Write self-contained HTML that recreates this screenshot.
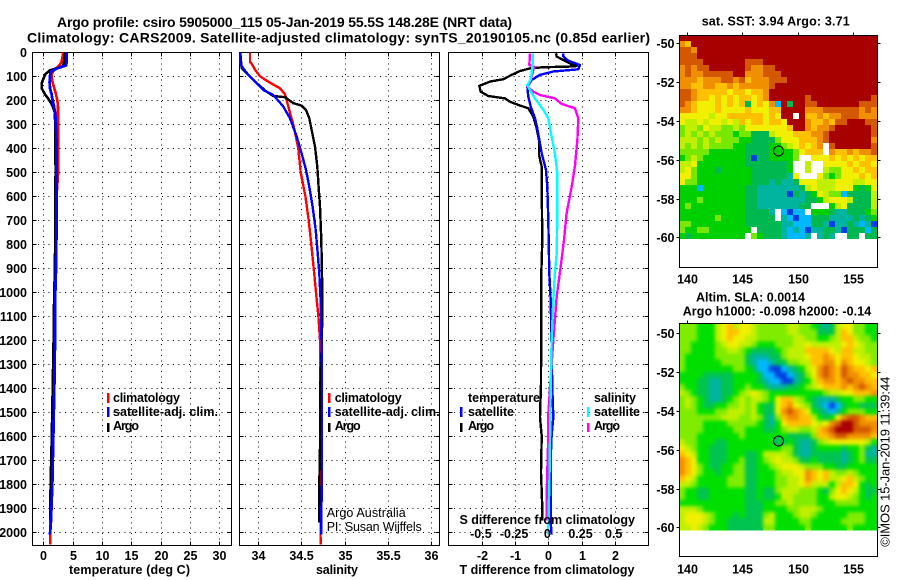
<!DOCTYPE html>
<html lang="en">
<head>
<meta charset="utf-8">
<title>Argo profile chart</title>
<style>
html,body{margin:0;padding:0;background:#fff;}
svg{display:block;font-family:"Liberation Sans",sans-serif;}
text{fill:#000;font-weight:bold;font-size:12.5px;}
.thin{font-weight:normal;}
.grid{stroke:#000;stroke-width:1;stroke-dasharray:1 4.4;fill:none;shape-rendering:crispEdges;}
.frame{fill:none;stroke:#000;stroke-width:1;shape-rendering:crispEdges;}
.tick{stroke:#000;stroke-width:1;shape-rendering:crispEdges;}
.series{fill:none;stroke-linejoin:round;shape-rendering:crispEdges;}
.cell{shape-rendering:crispEdges;}
.swatch{shape-rendering:crispEdges;}
.smooth{filter:blur(1.9px);}
</style>
</head>
<body>
<svg id="chart" xmlns="http://www.w3.org/2000/svg" width="900" height="580" viewBox="0 0 900 580">
  <defs>
    <clipPath id="sla-clip"><rect x="679.5" y="323.5" width="198" height="205.4"/></clipPath>
  </defs>
  <rect x="0" y="0" width="900" height="580" fill="#fff"/>
  <text x="57" y="27" style="font-size:14px" textLength="455">Argo profile: csiro 5905000_115 05-Jan-2019 55.5S 148.28E (NRT data)</text>
  <text x="27" y="42.5" style="font-size:14px" textLength="623">Climatology: CARS2009. Satellite-adjusted climatology: synTS_20190105.nc (0.85d earlier)</text>

  <g id="plots"></g>

  <text x="69" y="574" textLength="121">temperature (deg C)</text>
  <text x="316" y="574" textLength="42">salinity</text>
  <text x="459.5" y="574" textLength="175">T difference from climatology</text>

  <g>
    <rect class="swatch" x="107" y="393" width="2.5" height="10" fill="#ff0000"/>
    <text x="113" y="402" textLength="67">climatology</text>
    <rect class="swatch" x="107" y="407" width="2.5" height="10" fill="#0000ff"/>
    <text x="113" y="416" textLength="105">satellite-adj. clim.</text>
    <rect class="swatch" x="107" y="423" width="2.5" height="9" fill="#000"/>
    <text x="113" y="430" textLength="26">Argo</text>
  </g>
  <g>
    <rect class="swatch" x="328" y="393" width="2.5" height="10" fill="#ff0000"/>
    <text x="334.7" y="402" textLength="67">climatology</text>
    <rect class="swatch" x="328" y="407" width="2.5" height="10" fill="#0000ff"/>
    <text x="334.7" y="416" textLength="105">satellite-adj. clim.</text>
    <rect class="swatch" x="328" y="423" width="2.5" height="9" fill="#000"/>
    <text x="334.7" y="430" textLength="26">Argo</text>
    <text class="thin" x="326.7" y="517" textLength="79">Argo Australia</text>
    <text class="thin" x="326.7" y="531" textLength="95">PI: Susan Wijffels</text>
  </g>
  <g>
    <text x="468" y="402" textLength="72">temperature</text>
    <rect class="swatch" x="460" y="407" width="2.5" height="10" fill="#0000ff"/>
    <text x="468" y="416" textLength="46">satellite</text>
    <rect class="swatch" x="460" y="423" width="2.5" height="9" fill="#000"/>
    <text x="468" y="430" textLength="26">Argo</text>
    <text x="594" y="402" textLength="42">salinity</text>
    <rect class="swatch" x="587" y="407" width="2.5" height="10" fill="#00ffff"/>
    <text x="594" y="416" textLength="46">satellite</text>
    <rect class="swatch" x="587" y="423" width="2.5" height="9" fill="#ff00ff"/>
    <text x="594" y="430" textLength="26">Argo</text>
    <text x="459.5" y="524" textLength="175.5">S difference from climatology</text>
  </g>

  <g id="maps"></g>

  <text x="701.7" y="25.7" textLength="148">sat. SST: 3.94 Argo: 3.71</text>
  <text x="696" y="301.7" textLength="109">Altim. SLA: 0.0014</text>
  <text x="682.7" y="315.7" textLength="188.5">Argo h1000: -0.098 h2000: -0.14</text>
  <text class="thin" transform="translate(889.5,546.7) rotate(-90)" x="0" y="0" style="font-size:13px" textLength="170">©IMOS 15-Jan-2019 11:39:44</text>
</svg>

<script>
// ---------- tick labels ----------
const depthTicks = [0,100,200,300,400,500,600,700,800,900,1000,1100,1200,1300,1400,1500,1600,1700,1800,1900,2000];
const tempTicks = [0,5,10,15,20,25,30];
const salTicks = [34,34.5,35,35.5,36];
const tDiffTicks = [-2,-1,0,1,2];
const sDiffTicks = [-0.5,-0.25,0,0.25,0.5];
const lonTicks = [140,145,150,155];
const latTicks = [-50,-52,-54,-56,-58,-60];

// ---------- temperature profiles (deg C) ----------
const tempClimDepth = [0,40,55,65,75,85,100,125,150,175,200,225,300,400,490,600,900,1200,1600,1950,2050];
const tempClim = [3.4,3.12,2.73,2.27,1.82,1.54,1.42,1.59,1.88,2.16,2.39,2.5,2.5,2.55,2.55,2.27,2.1,1.8,1.5,1.2,1.2];
const tempArgoDepth = [0,20,40,50,60,65,75,90,100,125,150,175,190,200,225,250,300,500,600,900,1000,1200,1400,1600,1800,1950];
const tempArgo = [3.7,3.6,3.55,3.5,3.2,2.5,1.14,0.4,0.18,-0.22,-0.28,0.29,0.75,1.03,1.6,1.95,2.05,2.1,2.05,2.0,1.85,1.75,1.6,1.45,1.25,1.2];
const tempSatDepth = [0,40,55,65,75,85,100,125,150,175,200,225,250,300,400,500,700,900,1000,1200,1400,1600,1800,1950,2010];
const tempSat = [3.97,3.97,3.86,2.56,1.71,1.25,1.14,1.08,1.14,1.42,1.59,1.82,1.99,2.16,2.27,2.27,2.27,2.16,2.05,1.99,1.88,1.71,1.54,1.31,1.14];

// ---------- salinity profiles ----------
const salClimDepth = [0,40,50,75,100,125,150,175,200,268,300,400,500,600,700,800,900,1000,1100,1200,1650,2050];
const salClim = [33.911,33.911,33.934,33.973,34.026,34.134,34.257,34.315,34.334,34.384,34.41,34.468,34.495,34.549,34.587,34.618,34.645,34.672,34.699,34.718,34.718,34.725];
const salArgoDepth = [0,67,87,122,164,182,187,212,222,240,275,324,393,476,560,643,782,921,1032,1200,1400,1600,1800,1960];
const salArgo = [33.8,33.815,33.873,33.969,34.103,34.18,34.315,34.41,34.506,34.556,34.595,34.622,34.66,34.687,34.702,34.718,34.733,34.741,34.745,34.74,34.72,34.72,34.71,34.71];
const salSatDepth = [0,46,67,94,122,157,178,226,275,351,421,490,560,643,740,837,921,1032,1300,1800,1950,2010];
const salSat = [33.796,33.796,33.834,33.892,33.969,34.065,34.18,34.295,34.372,34.449,34.506,34.556,34.595,34.633,34.668,34.691,34.71,34.725,34.741,34.741,34.73,34.73];

// ---------- differences from climatology ----------
const diffTArgoDepth = [4,18,32,53,57,60,62,67,78,94,112,122,140,164,182,192,206,222,233,268,317,365,428,476,560,782,921,1032,1380,1520,1600,1750,1900,1950];
const diffTArgo = [0.232,0.252,0.453,0.754,0.854,0.553,-0.15,-0.551,-0.852,-1.104,-1.354,-1.756,-2.077,-2.037,-1.806,-1.304,-1.154,-0.852,-0.601,-0.451,-0.35,-0.28,-0.28,-0.2,-0.2,-0.18,-0.21,-0.21,-0.22,-0.25,-0.2,-0.22,-0.18,-0.18];
const diffTSatDepth = [4,18,35,53,71,80,94,115,143,185,226,275,317,421,490,560,699,921,1032,1400,1520,1600,1700,1950,2010];
const diffTSat = [0.453,0.453,0.603,0.955,0.905,0.152,-0.25,-0.501,-0.632,-0.601,-0.531,-0.401,-0.33,-0.2,-0.069,-0.029,0.001,0.031,0.071,0.12,0.15,0.1,0.07,0.07,0.1];
const diffSArgoDepth = [4,53,60,87,122,143,164,178,192,215,233,275,365,476,560,671,782,893,1018,1200,1400,1510,1600,1700,1850,1950];
const diffSArgo = [-0.138,-0.143,-0.108,-0.118,-0.138,-0.158,-0.113,-0.0625,0.05,0.1,0.2,0.226,0.219,0.2,0.176,0.138,0.118,0.093,0.063,0.038,0.013,0,0,-0.005,-0.012,-0.012];
const diffSSatDepth = [4,46,87,115,136,157,192,240,275,351,421,504,671,837,921,1032,1200,1400,1800,1900,2010];
const diffSSat = [-0.118,-0.118,-0.125,-0.133,-0.158,-0.138,-0.1,-0.037,0,0.025,0.05,0.068,0.068,0.063,0.05,0.038,0.025,0.018,0.008,0.003,0];

// ---------- map values: one character per cell, colour level 0 (low) to b (high), "." = no data ----------
const sstColors = ['#0040e0','#00b8ff','#00b4a0','#00b850','#00d000','#78e800','#c0f000','#f0f000','#ffc000','#f09000','#d45800','#a80000'];
const slaColors = ['#0040e0','#00b8ff','#00b4a0','#00c450','#00e000','#80ec00','#c0f000','#f0f000','#ffc000','#f09000','#d45800','#a80000'];
const sstRows = [
"bbbbbbbbbbb bbbbbbbbbbb bbbbbbbbbbb",
"98bbbbbbbbb bbbbbbbbbbb bbbbbbbbbbb",
"aa9bbbbbbbb bbbbbbbbbbb bbbbbbbbbbb",
"aaabbbbbbbb bbbbbbbbbbb bbbbbbbbbbb",
"aaaabbbbbbb aaabbbbbbbb bbbbbbbbbbb",
"9a9aabbbbbb a99aabbbbbb bbbbbbbbbbb",
"9a99aaaaabb 999aaabbbbb bbbbbbbbbbb",
"9998999aa9a 8999aaabbbb bbbbbbbbbbb",
"99889988989 9999abbbbbb bbbbbbbbbbb",
"aa988888788 7889bbbbbbb bbbbbbbbbbb",
"aa988787878 8789bbbbbba bbbbbbbbbba",
"a9877787878 378791b3bba abbbbbbbaaa",
"99877787777 877788bbbb9 99aaaaaa9a9",
"77777677888 888787bb.b8 89899aaa999",
"76676776768 7887887bbb9 8898aabbbaa",
"56657665565 77777778bb9 899abbbbbba",
"56565655545 53336777888 99abbbbbbba",
"66656565554 43333577788 89abbbbbbb9",
"65656555544 33334456787 89.abbbbbba",
"55555444444 33334444578 88.9889899a",
"45654444444 303344445.. 77787878788",
"66744444444 33333334..6 ..777787887",
"67544434444 43333334..6 ..655778788",
"77544444444 433333327.. .7545777878",
"75544444444 43332322377 76667776677",
"44414444444 33222222236 76667774347",
"44444444444 33222220323 47655133336",
"44454444444 33222222223 34677763336",
"45444444444 33222222233 ...46733336",
"44444444444 33332.1011. 44432233345",
"44444454444 33333.21011 33322223234",
"55444444444 33333322111 33202232120",
"54455444444 4.333321210 22332033313",
"43444444444 .5433321112 .232..33.33"
];
const slaRows = [
"55544467867 76555556655 43236775544",
"55544467887 76555556655 53336875544",
"55544467877 66555555665 54456886554",
"55444456776 65444555667 66666787655",
"55444455665 43333456668 88876886655",
"54444455555 32223356667 88987887665",
"54444445555 32112335566 88997987765",
"54444444455 43110012346 79a98a98878",
"44443333344 44311001235 79a98a99887",
"44433223344 44321100234 689989a9988",
"54433223344 54432223345 67888989a98",
"65433223345 67654444444 44566778889",
"56543223456 56654788654 32223445544",
"56543344556 56433789765 32101344333",
"55544455666 5643379a987 43212455544",
"55555556665 56532589988 643479aa988",
"55554444555 55432478888 7679abba999",
"55554444455 44433456655 689abbbaaa9",
"55544444445 44444443333 5889aa99998",
"65544433444 44444334322 35677777764",
"76544333444 44444455322 34444344532",
"87644333444 33466665322 33333234522",
"98744333445 33456766533 43333234533",
"98754334455 33445677765 55443344444",
"98754434455 33444566779 87865565444",
"87644444555 33444556679 87866786544",
"66544444555 33444556678 66646887434",
"54433444444 33433566655 54357876433",
"54433444444 33433466555 54467765434",
"44444444444 33344556555 54445555444",
"66654444444 33344445566 65444444444",
"67776544434 33356444566 54444455544",
"67776544333 33366444455 44444555544",
"66765444333 33355444445 44444454444"
];
const argoLon = 148.28;
const argoLat = -55.55;
const argoSstLevel = 4;
const argoSlaLevel = 3;

// ---------- helpers ----------
const SVGNS = 'http://www.w3.org/2000/svg';
const plotsLayer = document.getElementById('plots');
const mapsLayer = document.getElementById('maps');
function make(tag, parent, name, cls) {
  const el = document.createElementNS(SVGNS, tag);
  
  
  if (cls) el.setAttribute('class', cls);
  parent.appendChild(el);
  return el;
}
function line(parent, name, cls, x1, y1, x2, y2) {
  const el = make('line', parent, name, cls);
  el.setAttribute('x1', x1); el.setAttribute('y1', y1);
  el.setAttribute('x2', x2); el.setAttribute('y2', y2);
  return el;
}
function label(parent, name, str, x, y, anchor) {
  const el = make('text', parent, name);
  el.setAttribute('x', x); el.setAttribute('y', y);
  el.setAttribute('text-anchor', anchor || 'middle');
  el.textContent = str;
  return el;
}

// ---------- axes ----------
const yTop = 52.5, yBottom = 545.5;
const depthY = d => Math.round(52.3 + 0.24 * d) + 0.5;
const tempX = t => 43.3 + 5.87 * t;
const salX = s => 257.7 + 86.8 * (s - 34);
const diffTX = t => 548.3 + 33.2 * t;
const diffSX = s => 548.3 + 132.8 * s;
const snap = v => Math.round(v) + 0.5;

function drawPanel(id, left, right, xTicks, xScale, tickLabel) {
  const g = make('g', plotsLayer, id + '-panel');
  depthTicks.forEach(d => {
    const y = depthY(d);
    line(g, id + '-depth-gridline', 'grid', left, y, right, y);
    line(g, id + '-depth-tick-left', 'tick', left, y, left + 4, y);
    line(g, id + '-depth-tick-right', 'tick', right - 4, y, right, y);
  });
  xTicks.forEach(v => {
    const x = snap(xScale(v));
    line(g, id + '-x-gridline', 'grid', x, yTop, x, yBottom);
    line(g, id + '-x-tick-top', 'tick', x, yTop, x, yTop + 4);
    line(g, id + '-x-tick-bottom', 'tick', x, yBottom - 4, x, yBottom);
    label(g, id + '-x-tick-label', tickLabel(v), x, 560);
  });
  const f = make('rect', g, id + '-frame', 'frame');
  f.setAttribute('x', left); f.setAttribute('y', yTop);
  f.setAttribute('width', right - left); f.setAttribute('height', yBottom - yTop);
  return g;
}
function drawSeries(g, name, depths, values, xScale, color, width) {
  const el = make('polyline', g, name, 'series');
  const pts = depths.map((d, i) => xScale(values[i]).toFixed(1) + ',' + (52.3 + 0.24 * d).toFixed(1));
  el.setAttribute('points', pts.join(' '));
  el.setAttribute('stroke', color);
  el.setAttribute('stroke-width', width);
  return el;
}

// panel 1: temperature
const p1 = drawPanel('temperature', 32.5, 231.5, tempTicks, tempX, v => String(v));
depthTicks.forEach(d => {
  label(p1, 'depth-tick-label', String(d), 27, depthY(d) + 4.5, 'end');
});
drawSeries(p1, 'temperature-climatology-line', tempClimDepth, tempClim, tempX, '#ff0000', 2.6);
drawSeries(p1, 'temperature-argo-line', tempArgoDepth, tempArgo, tempX, '#000000', 2.6);
drawSeries(p1, 'temperature-satellite-line', tempSatDepth, tempSat, tempX, '#0000ff', 2.8);

// panel 2: salinity
const p2 = drawPanel('salinity', 239.5, 439.5, salTicks, salX, v => String(v));
drawSeries(p2, 'salinity-climatology-line', salClimDepth, salClim, salX, '#ff0000', 2.4);
drawSeries(p2, 'salinity-argo-line', salArgoDepth, salArgo, salX, '#000000', 2.4);
drawSeries(p2, 'salinity-satellite-line', salSatDepth, salSat, salX, '#0000ff', 2.4);

// panel 3: differences
const p3 = drawPanel('difference', 448.5, 648.5, tDiffTicks, diffTX, v => String(v));
drawSeries(p3, 't-argo-difference-line', diffTArgoDepth, diffTArgo, diffTX, '#000000', 2.4);
drawSeries(p3, 't-satellite-difference-line', diffTSatDepth, diffTSat, diffTX, '#0000ff', 2.4);
drawSeries(p3, 's-argo-difference-line', diffSArgoDepth, diffSArgo, diffSX, '#ff00ff', 2.4);
drawSeries(p3, 's-satellite-difference-line', diffSSatDepth, diffSSat, diffSX, '#00ffff', 2.4);
sDiffTicks.forEach(v => {
  label(p3, 's-difference-tick-label', String(v), diffSX(v) - 1, 538);
});

// ---------- maps ----------
function drawCells(parent, id, rows, colors, left, cellTop, cellW, cellH) {
  rows.forEach((row, r) => {
    const chars = row.replace(/ /g, '');
    for (let c = 0; c < 33; c++) {
      const code = chars[c] === undefined ? chars[chars.length - 1] : chars[c];
      if (code === '.') continue;
      const level = parseInt(code, 16);
      const cell = make('rect', parent, id + '-cell', 'cell');
      cell.setAttribute('x', left - 0.5 + c * cellW);
      cell.setAttribute('y', cellTop + r * cellH);
      cell.setAttribute('width', cellW);
      cell.setAttribute('height', cellH);
      cell.setAttribute('fill', colors[level]);
    }
  });
}
function drawMap(id, rows, colors, smooth, top, bottom, cellTop, cellH, labelY, lat50Y, argoLevel) {
  const left = 679.5, right = 877.5, cellW = 6;
  const lonX = lon => 687.3 + 11.02 * (lon - 140);
  const latY = lat => lat50Y + 19.4 * (-50 - lat);
  const g = make('g', mapsLayer, id + '-map');
  const cells = make('g', g, id + '-heatmap');
  drawCells(cells, id, rows, colors, left, cellTop, cellW, cellH);
  if (smooth) {
    const clip = make('g', g, id + '-heatmap-smoothing-clip');
    clip.setAttribute('clip-path', 'url(#sla-clip)');
    const soft = make('g', clip, id + '-heatmap-smoothed', 'smooth');
    drawCells(soft, id, rows, colors, left, cellTop, cellW, cellH);
  }
  lonTicks.forEach(lon => {
    const x = snap(lonX(lon));
    line(g, id + '-lon-tick', 'tick', x, top - 3, x, top);
    label(g, id + '-lon-tick-label', String(lon), x, labelY);
  });
  latTicks.forEach(lat => {
    const y = snap(latY(lat));
    line(g, id + '-lat-tick-left', 'tick', left - 3, y, left, y);
    line(g, id + '-lat-tick-right', 'tick', right, y, right + 3, y);
    label(g, id + '-lat-tick-label', String(lat), 674.5, y + 4.5, 'end');
  });
  const f = make('rect', g, id + '-frame', 'frame');
  f.setAttribute('x', left); f.setAttribute('y', top);
  f.setAttribute('width', right - left); f.setAttribute('height', bottom - top);
  const m = make('circle', g, id + '-argo-location-marker');
  m.setAttribute('cx', lonX(argoLon));
  m.setAttribute('cy', latY(argoLat));
  m.setAttribute('r', 5);
  m.setAttribute('fill', colors[argoLevel]);
  m.setAttribute('stroke', '#000');
  m.setAttribute('stroke-width', 1);
}
drawMap('sst', sstRows, sstColors, false, 35.5, 267.5, 35, 6, 283.5, 43.3, argoSstLevel);
drawMap('sla', slaRows, slaColors, true, 323.5, 556.5, 323, 6.1, 573.5, 333.3, argoSlaLevel);
</script>
</body>
</html>
